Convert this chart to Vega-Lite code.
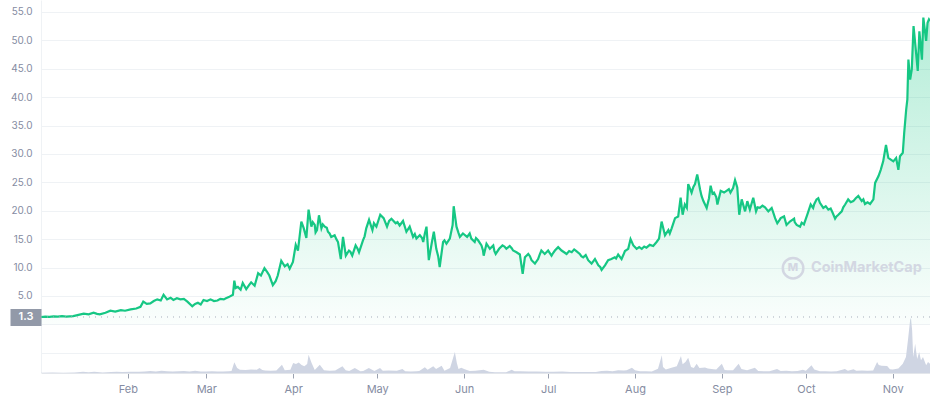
{
  "$schema": "https://vega.github.io/schema/vega-lite/v6.json",
  "width": 889,
  "height": 373,
  "autosize": {"type": "none"},
  "padding": {"left": 41, "top": 0, "right": 0, "bottom": 27},
  "background": "white",
  "config": {
    "view": {"stroke": null},
    "font": "Inter",
    "axisX": {
      "format": "%b",
      "grid": false,
      "labelColor": "#858ca2",
      "labelFont": "Inter",
      "labelFontSize": 11,
      "labelPadding": 5,
      "tickColor": "#9aa1b0",
      "tickSize": 5,
      "domainColor": "#e3e6eb",
      "labelFlush": false,
      "title": null
    }
  },
  "datasets": {
    "price": [
      {"t":"2021-01-01T00:00","p":1.30},{"t":"2021-01-02T12:00","p":1.35},{"t":"2021-01-04T00:00","p":1.32},{"t":"2021-01-05T12:00","p":1.40},{"t":"2021-01-07T00:00","p":1.36},{"t":"2021-01-08T12:00","p":1.45},{"t":"2021-01-10T00:00","p":1.38},{"t":"2021-01-12T12:00","p":1.45},{"t":"2021-01-14T00:00","p":1.62},{"t":"2021-01-16T06:00","p":1.90},{"t":"2021-01-18T00:00","p":1.78},{"t":"2021-01-19T18:00","p":2.06},{"t":"2021-01-21T00:00","p":1.85},{"t":"2021-01-22T00:00","p":1.76},{"t":"2021-01-24T00:00","p":2.05},{"t":"2021-01-25T18:00","p":2.40},{"t":"2021-01-27T12:00","p":2.25},{"t":"2021-01-29T12:00","p":2.50},{"t":"2021-01-31T00:00","p":2.40},
      {"t":"2021-02-02T00:00","p":2.65},{"t":"2021-02-04T00:00","p":2.80},{"t":"2021-02-05T12:00","p":3.10},{"t":"2021-02-06T12:00","p":4.00},{"t":"2021-02-07T18:00","p":3.60},{"t":"2021-02-09T00:00","p":3.70},{"t":"2021-02-10T06:00","p":4.10},{"t":"2021-02-11T12:00","p":4.40},{"t":"2021-02-12T18:00","p":4.20},{"t":"2021-02-13T18:00","p":5.20},{"t":"2021-02-15T00:00","p":4.40},{"t":"2021-02-16T06:00","p":4.70},{"t":"2021-02-17T06:00","p":4.30},{"t":"2021-02-18T12:00","p":4.60},{"t":"2021-02-19T18:00","p":4.40},{"t":"2021-02-21T00:00","p":4.50},{"t":"2021-02-22T06:00","p":4.00},{"t":"2021-02-24T00:00","p":3.20},{"t":"2021-02-25T00:00","p":3.60},{"t":"2021-02-26T00:00","p":3.80},{"t":"2021-02-27T00:00","p":3.50},{"t":"2021-02-28T00:00","p":4.30},
      {"t":"2021-03-01T06:00","p":4.10},{"t":"2021-03-02T12:00","p":4.40},{"t":"2021-03-03T18:00","p":4.10},{"t":"2021-03-05T00:00","p":4.20},{"t":"2021-03-06T00:00","p":4.50},{"t":"2021-03-07T06:00","p":4.40},{"t":"2021-03-08T00:00","p":4.60},{"t":"2021-03-09T00:00","p":4.80},{"t":"2021-03-10T12:00","p":5.20},{"t":"2021-03-11T00:00","p":7.70},{"t":"2021-03-11T12:00","p":6.40},{"t":"2021-03-12T06:00","p":6.60},{"t":"2021-03-13T06:00","p":6.10},{"t":"2021-03-14T00:00","p":7.30},{"t":"2021-03-15T06:00","p":6.20},{"t":"2021-03-16T06:00","p":6.90},{"t":"2021-03-17T00:00","p":7.40},{"t":"2021-03-18T06:00","p":6.80},{"t":"2021-03-19T12:00","p":9.00},{"t":"2021-03-20T12:00","p":8.60},{"t":"2021-03-21T18:00","p":9.90},{"t":"2021-03-22T18:00","p":9.20},{"t":"2021-03-23T12:00","p":8.60},{"t":"2021-03-24T18:00","p":6.90},{"t":"2021-03-25T18:00","p":7.60},{"t":"2021-03-26T12:00","p":8.60},{"t":"2021-03-27T18:00","p":11.20},{"t":"2021-03-29T00:00","p":10.20},{"t":"2021-03-30T00:00","p":10.60},{"t":"2021-03-30T18:00","p":9.80},{"t":"2021-03-31T22:00","p":11.00},
      {"t":"2021-04-01T22:00","p":14.00},{"t":"2021-04-02T17:00","p":13.00},{"t":"2021-04-03T22:00","p":18.10},{"t":"2021-04-04T19:00","p":16.90},{"t":"2021-04-05T17:00","p":15.20},{"t":"2021-04-06T12:00","p":20.20},{"t":"2021-04-07T12:00","p":17.20},{"t":"2021-04-08T17:00","p":17.50},{"t":"2021-04-09T12:00","p":16.60},{"t":"2021-04-10T05:00","p":19.20},{"t":"2021-04-11T02:00","p":16.90},{"t":"2021-04-12T07:00","p":17.20},{"t":"2021-04-13T10:00","p":16.30},{"t":"2021-04-14T14:00","p":15.40},{"t":"2021-04-15T19:00","p":15.70},{"t":"2021-04-17T00:00","p":14.50},{"t":"2021-04-18T00:00","p":11.50},{"t":"2021-04-18T19:00","p":15.40},{"t":"2021-04-19T19:00","p":12.10},{"t":"2021-04-20T22:00","p":13.00},{"t":"2021-04-22T02:00","p":12.10},{"t":"2021-04-23T07:00","p":13.90},{"t":"2021-04-24T12:00","p":12.70},{"t":"2021-04-25T22:00","p":14.80},{"t":"2021-04-27T02:00","p":16.90},{"t":"2021-04-28T02:00","p":18.40},{"t":"2021-04-29T07:00","p":16.60},{"t":"2021-04-30T17:00","p":17.20},
      {"t":"2021-05-02T02:00","p":19.30},{"t":"2021-05-03T07:00","p":18.70},{"t":"2021-05-04T12:00","p":17.20},{"t":"2021-05-06T02:00","p":18.60},{"t":"2021-05-07T14:00","p":17.80},{"t":"2021-05-09T00:00","p":17.40},{"t":"2021-05-10T05:00","p":18.20},{"t":"2021-05-11T10:00","p":16.30},{"t":"2021-05-12T14:00","p":17.20},{"t":"2021-05-13T19:00","p":15.40},{"t":"2021-05-15T00:00","p":15.10},{"t":"2021-05-16T05:00","p":15.70},{"t":"2021-05-17T10:00","p":14.50},{"t":"2021-05-18T14:00","p":17.20},{"t":"2021-05-19T10:00","p":11.30},{"t":"2021-05-20T10:00","p":14.20},{"t":"2021-05-21T05:00","p":16.30},{"t":"2021-05-22T02:00","p":13.30},{"t":"2021-05-23T07:00","p":10.10},{"t":"2021-05-24T12:00","p":14.50},{"t":"2021-05-25T17:00","p":14.20},{"t":"2021-05-26T22:00","p":15.10},{"t":"2021-05-27T22:00","p":17.50},{"t":"2021-05-28T07:00","p":20.80},{"t":"2021-05-29T07:00","p":17.20},{"t":"2021-05-30T12:00","p":15.40},{"t":"2021-05-31T14:00","p":16.00},
      {"t":"2021-06-02T02:00","p":15.40},{"t":"2021-06-03T00:00","p":16.00},{"t":"2021-06-03T14:00","p":15.10},{"t":"2021-06-04T19:00","p":14.50},{"t":"2021-06-06T00:00","p":14.80},{"t":"2021-06-07T05:00","p":13.90},{"t":"2021-06-08T00:00","p":12.10},{"t":"2021-06-09T00:00","p":14.20},{"t":"2021-06-10T05:00","p":13.30},{"t":"2021-06-11T10:00","p":13.90},{"t":"2021-06-12T07:00","p":12.40},{"t":"2021-06-13T12:00","p":13.30},{"t":"2021-06-14T17:00","p":13.90},{"t":"2021-06-16T02:00","p":13.30},{"t":"2021-06-17T07:00","p":13.80},{"t":"2021-06-18T12:00","p":13.00},{"t":"2021-06-19T17:00","p":12.70},{"t":"2021-06-20T22:00","p":12.30},{"t":"2021-06-21T22:00","p":8.90},{"t":"2021-06-22T17:00","p":11.80},{"t":"2021-06-23T22:00","p":12.40},{"t":"2021-06-25T02:00","p":11.30},{"t":"2021-06-26T07:00","p":10.70},{"t":"2021-06-27T10:00","p":11.50},{"t":"2021-06-28T14:00","p":13.00},{"t":"2021-06-29T19:00","p":12.40},
      {"t":"2021-07-01T00:00","p":13.00},{"t":"2021-07-02T05:00","p":12.10},{"t":"2021-07-03T10:00","p":13.00},{"t":"2021-07-04T14:00","p":13.60},{"t":"2021-07-05T19:00","p":13.00},{"t":"2021-07-06T17:00","p":12.70},{"t":"2021-07-07T14:00","p":12.40},{"t":"2021-07-08T12:00","p":12.90},{"t":"2021-07-09T10:00","p":12.70},{"t":"2021-07-10T07:00","p":13.20},{"t":"2021-07-11T02:00","p":12.90},{"t":"2021-07-12T07:00","p":12.40},{"t":"2021-07-13T12:00","p":11.80},{"t":"2021-07-14T10:00","p":12.20},{"t":"2021-07-15T07:00","p":11.30},{"t":"2021-07-16T12:00","p":10.70},{"t":"2021-07-17T17:00","p":11.50},{"t":"2021-07-18T22:00","p":10.40},{"t":"2021-07-20T02:00","p":9.60},{"t":"2021-07-21T07:00","p":10.40},{"t":"2021-07-22T10:00","p":11.30},{"t":"2021-07-23T14:00","p":11.50},{"t":"2021-07-24T19:00","p":11.80},{"t":"2021-07-26T00:00","p":12.30},{"t":"2021-07-27T05:00","p":11.50},{"t":"2021-07-28T10:00","p":12.90},{"t":"2021-07-29T14:00","p":13.30},{"t":"2021-07-30T10:00","p":15.00},{"t":"2021-07-31T10:00","p":13.90},
      {"t":"2021-08-01T14:00","p":13.30},{"t":"2021-08-02T12:00","p":13.60},{"t":"2021-08-03T10:00","p":13.30},{"t":"2021-08-04T07:00","p":13.70},{"t":"2021-08-05T02:00","p":13.50},{"t":"2021-08-06T07:00","p":14.00},{"t":"2021-08-07T12:00","p":13.80},{"t":"2021-08-08T17:00","p":14.50},{"t":"2021-08-09T14:00","p":15.10},{"t":"2021-08-10T12:00","p":18.10},{"t":"2021-08-11T17:00","p":15.70},{"t":"2021-08-12T22:00","p":16.60},{"t":"2021-08-14T02:00","p":16.90},{"t":"2021-08-15T07:00","p":18.70},{"t":"2021-08-16T10:00","p":19.00},{"t":"2021-08-17T07:00","p":22.30},{"t":"2021-08-18T00:00","p":19.30},{"t":"2021-08-18T19:00","p":21.10},{"t":"2021-08-20T00:00","p":24.70},{"t":"2021-08-21T05:00","p":23.20},{"t":"2021-08-22T10:00","p":24.70},{"t":"2021-08-23T05:00","p":26.40},{"t":"2021-08-24T05:00","p":23.80},{"t":"2021-08-25T10:00","p":21.70},{"t":"2021-08-26T14:00","p":20.50},{"t":"2021-08-28T00:00","p":24.40},{"t":"2021-08-29T05:00","p":23.20},{"t":"2021-08-30T10:00","p":21.10},{"t":"2021-08-31T14:00","p":23.50},
      {"t":"2021-09-01T19:00","p":23.20},{"t":"2021-09-02T22:00","p":23.60},{"t":"2021-09-04T02:00","p":23.20},{"t":"2021-09-05T00:00","p":24.00},{"t":"2021-09-05T17:00","p":25.40},{"t":"2021-09-06T12:00","p":24.10},{"t":"2021-09-07T05:00","p":19.30},{"t":"2021-09-08T02:00","p":22.00},{"t":"2021-09-09T07:00","p":19.90},{"t":"2021-09-10T02:00","p":21.70},{"t":"2021-09-11T00:00","p":20.20},{"t":"2021-09-12T05:00","p":22.30},{"t":"2021-09-13T05:00","p":19.90},{"t":"2021-09-14T14:00","p":20.50},{"t":"2021-09-15T12:00","p":20.90},{"t":"2021-09-16T10:00","p":20.60},{"t":"2021-09-17T14:00","p":19.90},{"t":"2021-09-18T19:00","p":20.50},{"t":"2021-09-20T00:00","p":18.70},{"t":"2021-09-20T19:00","p":17.80},{"t":"2021-09-22T00:00","p":18.70},{"t":"2021-09-23T05:00","p":19.00},{"t":"2021-09-24T02:00","p":17.50},{"t":"2021-09-25T07:00","p":18.10},{"t":"2021-09-26T19:00","p":18.60},{"t":"2021-09-27T17:00","p":17.50},{"t":"2021-09-28T22:00","p":17.20},{"t":"2021-09-30T07:00","p":17.60},
      {"t":"2021-10-01T12:00","p":19.30},{"t":"2021-10-02T17:00","p":21.10},{"t":"2021-10-03T14:00","p":20.50},{"t":"2021-10-04T19:00","p":22.00},{"t":"2021-10-06T00:00","p":21.40},{"t":"2021-10-07T05:00","p":20.50},{"t":"2021-10-08T02:00","p":20.80},{"t":"2021-10-09T00:00","p":20.20},{"t":"2021-10-10T14:00","p":19.60},{"t":"2021-10-11T10:00","p":18.60},{"t":"2021-10-12T14:00","p":19.30},{"t":"2021-10-13T19:00","p":19.90},{"t":"2021-10-15T00:00","p":21.10},{"t":"2021-10-16T02:00","p":22.00},{"t":"2021-10-17T00:00","p":21.50},{"t":"2021-10-17T22:00","p":21.70},{"t":"2021-10-18T19:00","p":22.20},{"t":"2021-10-19T17:00","p":22.60},{"t":"2021-10-20T22:00","p":21.70},{"t":"2021-10-22T02:00","p":21.20},{"t":"2021-10-23T00:00","p":21.50},{"t":"2021-10-23T22:00","p":21.20},{"t":"2021-10-25T02:00","p":22.00},{"t":"2021-10-25T17:00","p":24.90},{"t":"2021-10-26T22:00","p":26.10},{"t":"2021-10-27T17:00","p":27.20},{"t":"2021-10-28T14:00","p":28.70},{"t":"2021-10-29T14:00","p":31.60},{"t":"2021-10-30T10:00","p":29.30},{"t":"2021-10-31T07:00","p":29.00},
      {"t":"2021-11-01T05:00","p":28.70},{"t":"2021-11-02T05:00","p":29.30},{"t":"2021-11-03T00:00","p":27.20},{"t":"2021-11-03T14:00","p":29.60},{"t":"2021-11-04T14:00","p":30.20},{"t":"2021-11-05T02:00","p":33.70},{"t":"2021-11-05T19:00","p":37.80},{"t":"2021-11-06T05:00","p":39.60},{"t":"2021-11-06T14:00","p":46.60},{"t":"2021-11-07T05:00","p":43.10},{"t":"2021-11-07T19:00","p":44.90},{"t":"2021-11-08T10:00","p":52.50},{"t":"2021-11-09T05:00","p":48.40},{"t":"2021-11-09T22:00","p":44.60},{"t":"2021-11-10T12:00","p":51.60},{"t":"2021-11-11T10:00","p":46.60},{"t":"2021-11-11T22:00","p":54.00},{"t":"2021-11-12T22:00","p":49.90},{"t":"2021-11-13T10:00","p":53.10},{"t":"2021-11-13T22:00","p":53.70},{"t":"2021-11-14T07:00","p":53.40},
      {"t":"2021-04-08T00:00","p":18.00},{"t":"2021-04-09T00:00","p":16.20},{"t":"2021-04-11T14:00","p":17.60},{"t":"2021-04-13T00:00","p":17.00},{"t":"2021-04-14T00:00","p":16.00},{"t":"2021-04-16T10:00","p":15.00},{"t":"2021-04-21T10:00","p":12.80},{"t":"2021-04-24T00:00","p":13.30},{"t":"2021-04-26T12:00","p":15.50},{"t":"2021-04-29T20:00","p":17.80},
      {"t":"2021-05-05T06:00","p":18.20},{"t":"2021-05-08T06:00","p":18.00},{"t":"2021-05-14T10:00","p":15.90},{"t":"2021-05-17T00:00","p":15.20},{"t":"2021-05-18T00:00","p":16.00},{"t":"2021-05-22T18:00","p":12.00},{"t":"2021-05-25T00:00","p":14.80},{"t":"2021-05-30T00:00","p":16.10},
      {"t":"2021-06-05T06:00","p":15.20},{"t":"2021-06-07T18:00","p":13.00},{"t":"2021-06-11T20:00","p":12.90},{"t":"2021-06-15T10:00","p":13.70},{"t":"2021-06-18T00:00","p":13.40},{"t":"2021-06-24T12:00","p":12.00},{"t":"2021-06-27T22:00","p":12.20},
      {"t":"2021-07-02T20:00","p":12.60},{"t":"2021-07-12T20:00","p":12.00},{"t":"2021-07-19T14:00","p":10.10},{"t":"2021-07-25T06:00","p":11.60},{"t":"2021-07-27T20:00","p":12.20},
      {"t":"2021-08-13T10:00","p":16.00},{"t":"2021-08-19T12:00","p":20.50},{"t":"2021-08-21T20:00","p":24.20},{"t":"2021-08-24T18:00","p":22.60},{"t":"2021-08-27T10:00","p":22.20},{"t":"2021-08-28T16:00","p":23.00},{"t":"2021-08-30T00:00","p":22.40},{"t":"2021-08-31T00:00","p":22.30},
      {"t":"2021-09-03T12:00","p":23.80},{"t":"2021-09-09T18:00","p":20.90},{"t":"2021-09-13T18:00","p":20.60},{"t":"2021-09-19T10:00","p":19.60},{"t":"2021-09-21T12:00","p":18.30},{"t":"2021-09-27T00:00","p":18.00},{"t":"2021-09-29T12:00","p":17.90},
      {"t":"2021-10-04T00:00","p":21.20},{"t":"2021-10-05T10:00","p":22.20},{"t":"2021-10-09T20:00","p":20.40},{"t":"2021-10-11T22:00","p":19.00},{"t":"2021-10-14T08:00","p":20.60},{"t":"2021-10-21T12:00","p":22.00}
    ],
    "volume": [
      {"t":"2021-01-01T00:00","v":3},{"t":"2021-01-05T00:00","v":4},{"t":"2021-01-09T00:00","v":3},{"t":"2021-01-13T00:00","v":5},{"t":"2021-01-16T00:00","v":13},{"t":"2021-01-18T00:00","v":8},{"t":"2021-01-20T00:00","v":13},{"t":"2021-01-23T00:00","v":5},{"t":"2021-01-26T00:00","v":10},{"t":"2021-01-28T00:00","v":12},{"t":"2021-01-30T00:00","v":9},
      {"t":"2021-02-02T00:00","v":13},{"t":"2021-02-05T00:00","v":12},{"t":"2021-02-07T00:00","v":16},{"t":"2021-02-09T00:00","v":20},{"t":"2021-02-11T00:00","v":15},{"t":"2021-02-13T00:00","v":23},{"t":"2021-02-15T00:00","v":17},{"t":"2021-02-17T00:00","v":14},{"t":"2021-02-19T00:00","v":18},{"t":"2021-02-21T00:00","v":21},{"t":"2021-02-23T00:00","v":15},{"t":"2021-02-25T00:00","v":22},{"t":"2021-02-27T00:00","v":16},
      {"t":"2021-03-01T00:00","v":14},{"t":"2021-03-03T00:00","v":17},{"t":"2021-03-05T00:00","v":15},{"t":"2021-03-07T00:00","v":16},{"t":"2021-03-09T00:00","v":18},{"t":"2021-03-10T00:00","v":20},{"t":"2021-03-11T00:00","v":107},{"t":"2021-03-12T00:00","v":50},{"t":"2021-03-13T00:00","v":33},{"t":"2021-03-15T00:00","v":30},{"t":"2021-03-17T00:00","v":35},{"t":"2021-03-19T00:00","v":33},{"t":"2021-03-20T00:00","v":50},{"t":"2021-03-21T00:00","v":30},{"t":"2021-03-22T00:00","v":25},{"t":"2021-03-24T00:00","v":22},{"t":"2021-03-26T00:00","v":24},{"t":"2021-03-28T00:00","v":83},{"t":"2021-03-29T00:00","v":27},{"t":"2021-03-31T00:00","v":33},
      {"t":"2021-04-01T00:00","v":100},{"t":"2021-04-02T00:00","v":90},{"t":"2021-04-03T00:00","v":105},{"t":"2021-04-04T00:00","v":80},{"t":"2021-04-05T00:00","v":67},{"t":"2021-04-06T00:00","v":90},{"t":"2021-04-06T12:00","v":183},{"t":"2021-04-07T14:00","v":100},{"t":"2021-04-08T17:00","v":30},{"t":"2021-04-10T12:00","v":83},{"t":"2021-04-12T00:00","v":27},{"t":"2021-04-14T00:00","v":23},{"t":"2021-04-16T00:00","v":24},{"t":"2021-04-18T14:00","v":67},{"t":"2021-04-19T18:00","v":27},{"t":"2021-04-21T00:00","v":20},{"t":"2021-04-23T00:00","v":50},{"t":"2021-04-25T00:00","v":17},{"t":"2021-04-26T00:00","v":20},{"t":"2021-04-28T00:00","v":50},{"t":"2021-04-30T00:00","v":20},
      {"t":"2021-05-02T00:00","v":50},{"t":"2021-05-03T00:00","v":23},{"t":"2021-05-05T00:00","v":24},{"t":"2021-05-08T00:00","v":23},{"t":"2021-05-10T00:00","v":40},{"t":"2021-05-11T00:00","v":17},{"t":"2021-05-13T00:00","v":16},{"t":"2021-05-15T00:00","v":17},{"t":"2021-05-16T00:00","v":20},{"t":"2021-05-18T00:00","v":57},{"t":"2021-05-19T00:00","v":33},{"t":"2021-05-21T00:00","v":67},{"t":"2021-05-22T00:00","v":40},{"t":"2021-05-24T00:00","v":73},{"t":"2021-05-25T00:00","v":23},{"t":"2021-05-27T00:00","v":50},{"t":"2021-05-28T17:00","v":210},{"t":"2021-05-29T10:00","v":100},{"t":"2021-05-30T00:00","v":40},{"t":"2021-05-31T00:00","v":53},
      {"t":"2021-06-01T00:00","v":40},{"t":"2021-06-03T00:00","v":20},{"t":"2021-06-05T00:00","v":22},{"t":"2021-06-08T00:00","v":33},{"t":"2021-06-10T00:00","v":12},{"t":"2021-06-12T00:00","v":7},{"t":"2021-06-14T00:00","v":8},{"t":"2021-06-16T00:00","v":7},{"t":"2021-06-18T00:00","v":33},{"t":"2021-06-19T00:00","v":17},{"t":"2021-06-21T00:00","v":18},{"t":"2021-06-24T00:00","v":16},{"t":"2021-06-27T00:00","v":14},{"t":"2021-06-30T00:00","v":13},
      {"t":"2021-07-03T00:00","v":12},{"t":"2021-07-06T00:00","v":14},{"t":"2021-07-09T00:00","v":10},{"t":"2021-07-12T00:00","v":11},{"t":"2021-07-15T00:00","v":9},{"t":"2021-07-18T00:00","v":10},{"t":"2021-07-20T00:00","v":20},{"t":"2021-07-22T00:00","v":22},{"t":"2021-07-24T00:00","v":18},{"t":"2021-07-26T00:00","v":27},{"t":"2021-07-28T00:00","v":25},{"t":"2021-07-29T00:00","v":27},{"t":"2021-07-30T22:00","v":53},
      {"t":"2021-08-01T00:00","v":27},{"t":"2021-08-02T19:00","v":17},{"t":"2021-08-04T22:00","v":18},{"t":"2021-08-07T00:00","v":16},{"t":"2021-08-09T05:00","v":43},{"t":"2021-08-10T14:00","v":177},{"t":"2021-08-11T00:00","v":60},{"t":"2021-08-12T00:00","v":35},{"t":"2021-08-14T00:00","v":53},{"t":"2021-08-15T22:00","v":67},{"t":"2021-08-17T10:00","v":170},{"t":"2021-08-18T00:00","v":87},{"t":"2021-08-19T00:00","v":110},{"t":"2021-08-20T00:00","v":153},{"t":"2021-08-21T00:00","v":60},{"t":"2021-08-22T00:00","v":50},{"t":"2021-08-23T00:00","v":93},{"t":"2021-08-24T00:00","v":50},{"t":"2021-08-26T00:00","v":55},{"t":"2021-08-27T00:00","v":45},{"t":"2021-08-29T00:00","v":37},{"t":"2021-08-30T00:00","v":35},
      {"t":"2021-09-01T00:00","v":93},{"t":"2021-09-02T00:00","v":30},{"t":"2021-09-03T00:00","v":27},{"t":"2021-09-05T00:00","v":27},{"t":"2021-09-07T00:00","v":93},{"t":"2021-09-08T00:00","v":40},{"t":"2021-09-10T00:00","v":27},{"t":"2021-09-12T19:00","v":53},{"t":"2021-09-14T00:00","v":20},{"t":"2021-09-16T00:00","v":17},{"t":"2021-09-18T00:00","v":18},{"t":"2021-09-20T17:00","v":40},{"t":"2021-09-22T00:00","v":20},{"t":"2021-09-24T00:00","v":22},{"t":"2021-09-26T00:00","v":18},{"t":"2021-09-28T00:00","v":20},{"t":"2021-09-29T22:00","v":33},
      {"t":"2021-10-01T00:00","v":23},{"t":"2021-10-03T00:00","v":77},{"t":"2021-10-04T00:00","v":35},{"t":"2021-10-06T00:00","v":17},{"t":"2021-10-08T00:00","v":18},{"t":"2021-10-10T00:00","v":16},{"t":"2021-10-12T00:00","v":17},{"t":"2021-10-14T22:00","v":40},{"t":"2021-10-16T00:00","v":23},{"t":"2021-10-18T00:00","v":37},{"t":"2021-10-19T00:00","v":23},{"t":"2021-10-21T00:00","v":24},{"t":"2021-10-23T00:00","v":22},{"t":"2021-10-25T00:00","v":25},{"t":"2021-10-26T10:00","v":110},{"t":"2021-10-27T00:00","v":80},{"t":"2021-10-28T00:00","v":73},{"t":"2021-10-30T00:00","v":70},{"t":"2021-10-31T00:00","v":37},
      {"t":"2021-11-01T00:00","v":35},{"t":"2021-11-03T00:00","v":45},{"t":"2021-11-04T14:00","v":93},{"t":"2021-11-05T17:00","v":160},{"t":"2021-11-06T10:00","v":327},{"t":"2021-11-07T05:00","v":533},{"t":"2021-11-07T12:00","v":550},{"t":"2021-11-07T22:00","v":427},{"t":"2021-11-08T07:00","v":160},{"t":"2021-11-09T00:00","v":293},{"t":"2021-11-09T17:00","v":140},{"t":"2021-11-10T10:00","v":210},{"t":"2021-11-11T02:00","v":127},{"t":"2021-11-11T19:00","v":160},{"t":"2021-11-12T22:00","v":77},{"t":"2021-11-13T14:00","v":110},{"t":"2021-11-14T07:00","v":93}
    ]
  },
  "layer": [
    {
      "data": {"name": "volume"},
      "mark": {"type": "area", "color": "#cfd5e3"},
      "encoding": {
        "x": {
          "field": "t",
          "type": "temporal",
          "scale": {"nice": false},
          "axis": {
            "title": null,
            "values": [
              {"year": 2021, "month": 2, "date": 1},
              {"year": 2021, "month": 3, "date": 1},
              {"year": 2021, "month": 4, "date": 1},
              {"year": 2021, "month": 5, "date": 1},
              {"year": 2021, "month": 6, "date": 1},
              {"year": 2021, "month": 7, "date": 1},
              {"year": 2021, "month": 8, "date": 1},
              {"year": 2021, "month": 9, "date": 1},
              {"year": 2021, "month": 10, "date": 1},
              {"year": 2021, "month": 11, "date": 1}
            ]
          }
        },
        "y": {"field": "v", "type": "quantitative", "scale": {"domain": [0, 3730], "nice": false, "zero": true}, "axis": null}
      }
    },
    {
      "data": {"name": "price"},
      "layer": [
        {
          "mark": {
            "type": "area",
            "color": {
              "gradient": "linear",
              "x1": 0, "y1": 0, "x2": 0, "y2": 1,
              "stops": [
                {"offset": 0, "color": "rgba(22,199,132,0.32)"},
                {"offset": 1, "color": "rgba(22,199,132,0.02)"}
              ]
            }
          },
          "encoding": {
            "x": {"field": "t", "type": "temporal", "axis": {"title": null}},
            "y": {
              "field": "p",
              "type": "quantitative",
              "scale": {"domain": [-8.56, 57.1], "nice": false, "zero": false},
              "axis": {
                "title": null,
                "values": [-5, 0, 5, 10, 15, 20, 25, 30, 35, 40, 45, 50, 55],
                "labelExpr": "datum.value >= 5 ? format(datum.value, '.1f') : ''",
                "grid": true,
                "gridColor": "#eff2f5",
                "ticks": false,
                "domain": true,
                "domainColor": "#eff2f5",
                "labelColor": "#858ca2",
                "labelFont": "Inter",
                "labelFontSize": 10,
                "labelPadding": 9
              }
            },
            "y2": {"datum": 0}
          }
        },
        {
          "mark": {"type": "line", "color": "#16c784", "strokeWidth": 2.2},
          "encoding": {
            "x": {"field": "t", "type": "temporal", "axis": {"title": null}},
            "y": {"field": "p", "type": "quantitative", "axis": null}
          }
        },
        {
          "data": {"values": [{}]},
          "mark": {"type": "rule", "color": "#a6adbb", "strokeDash": [1, 5], "strokeWidth": 1},
          "encoding": {
            "y": {
              "datum": 1.3,
              "type": "quantitative",
              "axis": {
                "orient": "left",
                "title": null,
                "values": [1.3],
                "format": ".1f",
                "grid": false,
                "domain": false,
                "ticks": true,
                "tickSize": 31,
                "tickWidth": 17,
                "tickColor": "#9299a8",
                "labelColor": "white",
                "labelFont": "Inter",
                "labelFontSize": 11,
                "labelFontWeight": 600,
                "labelAlign": "center",
                "labelBaseline": "middle",
                "labelPadding": -15.5
              }
            }
          }
        },
        {
          "data": {"values": [{}]},
          "mark": {"type": "point", "shape": "circle", "filled": false, "size": 420, "strokeWidth": 2.5, "color": "#d3d7e2", "opacity": 1},
          "encoding": {
            "x": {"datum": {"year": 2021, "month": 9, "date": 26, "hours": 10}, "type": "temporal", "axis": {"title": null}},
            "y": {"datum": 9.9, "type": "quantitative", "axis": null}
          }
        },
        {
          "data": {"values": [{}]},
          "mark": {"type": "text", "text": "M", "align": "center", "baseline": "middle", "font": "Inter", "fontSize": 11, "fontWeight": 800, "color": "#d3d7e2"},
          "encoding": {
            "x": {"datum": {"year": 2021, "month": 9, "date": 26, "hours": 10}, "type": "temporal", "axis": {"title": null}},
            "y": {"datum": 9.9, "type": "quantitative", "axis": null}
          }
        },
        {
          "data": {"values": [{}]},
          "mark": {"type": "text", "text": "CoinMarketCap", "align": "left", "baseline": "middle", "font": "Inter", "fontSize": 14.5, "fontWeight": 700, "color": "#d3d7e2"},
          "encoding": {
            "x": {"datum": {"year": 2021, "month": 10, "date": 2, "hours": 19}, "type": "temporal", "axis": {"title": null}},
            "y": {"datum": 9.9, "type": "quantitative", "axis": null}
          }
        }
      ],
      "resolve": {"axis": {"y": "independent"}}
    }
  ],
  "resolve": {"scale": {"y": "independent"}}
}
